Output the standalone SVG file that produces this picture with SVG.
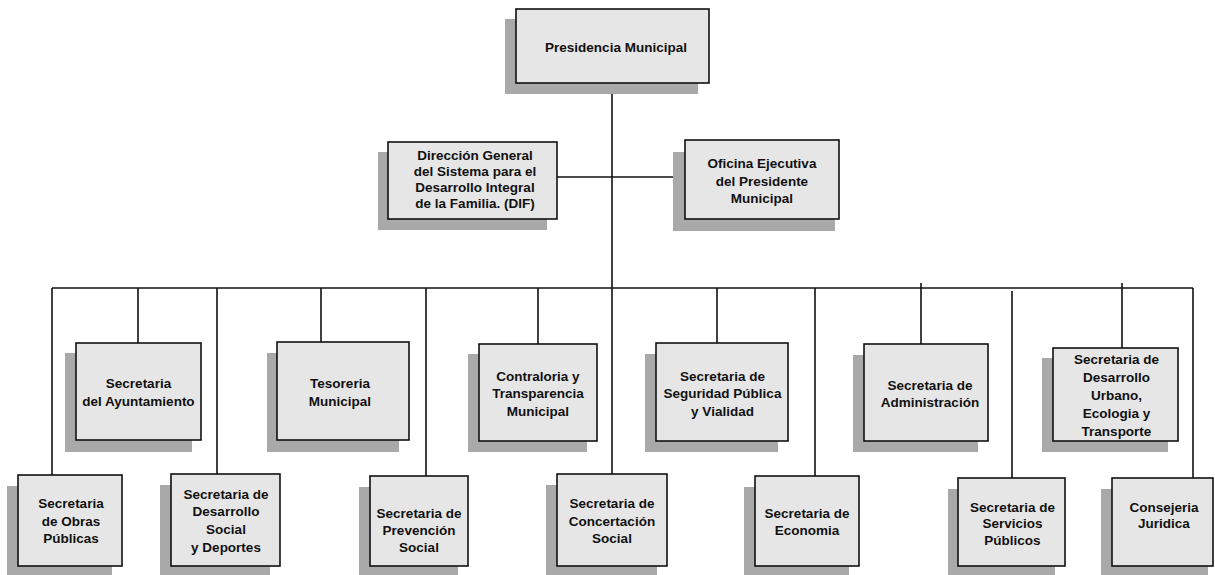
<svg xmlns="http://www.w3.org/2000/svg" width="1215" height="575" viewBox="0 0 1215 575">
<style>
.sh{fill:#a9a9a9}
.bx{fill:#e6e6e6;stroke:#111;stroke-width:1.6}
.t{font-family:"Liberation Sans",Arial,sans-serif;font-weight:bold;font-size:13.5px;fill:#111;text-anchor:middle}
.c{stroke:#111;stroke-width:1.6;fill:none}
</style>
<rect width="1215" height="575" fill="#ffffff"/>
<g id="connectors">
<line class="c" x1="612" y1="83" x2="612" y2="474"/>
<line class="c" x1="557" y1="177" x2="685" y2="177"/>
<line class="c" x1="52" y1="288" x2="1193" y2="288"/>
<line class="c" x1="52" y1="288" x2="52" y2="475"/>
<line class="c" x1="138" y1="288" x2="138" y2="343"/>
<line class="c" x1="217" y1="288" x2="217" y2="474"/>
<line class="c" x1="321" y1="288" x2="321" y2="342"/>
<line class="c" x1="426" y1="288" x2="426" y2="476"/>
<line class="c" x1="538" y1="288" x2="538" y2="344"/>
<line class="c" x1="717" y1="288" x2="717" y2="343"/>
<line class="c" x1="815" y1="288" x2="815" y2="476"/>
<line class="c" x1="921" y1="283" x2="921" y2="344"/>
<line class="c" x1="1012" y1="291" x2="1012" y2="478"/>
<line class="c" x1="1122" y1="283" x2="1122" y2="348"/>
<line class="c" x1="1193" y1="288" x2="1193" y2="478"/>
</g>
<g id="presidencia">
<rect class="sh" x="505" y="19" width="193" height="75"/>
<rect class="bx" x="516" y="9" width="193" height="74"/>
<text class="t" x="616" y="52">Presidencia Municipal</text>
</g>
<g id="dif">
<rect class="sh" x="378" y="152" width="169" height="78"/>
<rect class="bx" x="388" y="142" width="169" height="77"/>
<text class="t" x="475" y="160">Dirección General</text>
<text class="t" x="475" y="176">del Sistema para el</text>
<text class="t" x="475" y="192">Desarrollo Integral</text>
<text class="t" x="475" y="208">de la Familia. (DIF)</text>
</g>
<g id="oficina">
<rect class="sh" x="673" y="152" width="162" height="79"/>
<rect class="bx" x="685" y="140" width="154" height="79"/>
<text class="t" x="762" y="168">Oficina Ejecutiva</text>
<text class="t" x="762" y="185.5">del Presidente</text>
<text class="t" x="762" y="203">Municipal</text>
</g>
<g id="ayuntamiento">
<rect class="sh" x="65" y="353" width="127" height="99"/>
<rect class="bx" x="76" y="343" width="125" height="97"/>
<text class="t" x="138.5" y="388">Secretaria</text>
<text class="t" x="138.5" y="406">del Ayuntamiento</text>
</g>
<g id="tesoreria">
<rect class="sh" x="267" y="353" width="132" height="99"/>
<rect class="bx" x="277" y="342" width="132" height="98"/>
<text class="t" x="340" y="388">Tesoreria</text>
<text class="t" x="340" y="406">Municipal</text>
</g>
<g id="contraloria">
<rect class="sh" x="468" y="354" width="119" height="98"/>
<rect class="bx" x="479" y="344" width="118" height="97"/>
<text class="t" x="538" y="381">Contraloria y</text>
<text class="t" x="538" y="398">Transparencia</text>
<text class="t" x="538" y="416">Municipal</text>
</g>
<g id="seguridad">
<rect class="sh" x="645" y="354" width="133" height="98"/>
<rect class="bx" x="656" y="343" width="132" height="98"/>
<text class="t" x="722.5" y="381">Secretaria de</text>
<text class="t" x="722.5" y="398">Seguridad Pública</text>
<text class="t" x="722.5" y="416">y Vialidad</text>
</g>
<g id="administracion">
<rect class="sh" x="853" y="355" width="125" height="97"/>
<rect class="bx" x="864" y="344" width="124" height="97"/>
<text class="t" x="930" y="390">Secretaria de</text>
<text class="t" x="930" y="407">Administración</text>
</g>
<g id="desarrollo-urbano">
<rect class="sh" x="1042" y="358" width="126" height="94"/>
<rect class="bx" x="1053" y="348" width="125" height="93"/>
<text class="t" x="1116.5" y="364">Secretaria de</text>
<text class="t" x="1116.5" y="382">Desarrollo</text>
<text class="t" x="1116.5" y="400">Urbano,</text>
<text class="t" x="1116.5" y="418">Ecologia y</text>
<text class="t" x="1116.5" y="436">Transporte</text>
</g>
<g id="obras">
<rect class="sh" x="7" y="486" width="105" height="92"/>
<rect class="bx" x="18" y="475" width="104" height="91"/>
<text class="t" x="71" y="508">Secretaria</text>
<text class="t" x="71" y="526">de Obras</text>
<text class="t" x="71" y="543">Públicas</text>
</g>
<g id="desarrollo-social">
<rect class="sh" x="160" y="485" width="110" height="93"/>
<rect class="bx" x="171" y="474" width="109" height="92"/>
<text class="t" x="226" y="499">Secretaria de</text>
<text class="t" x="226" y="516">Desarrollo</text>
<text class="t" x="226" y="534">Social</text>
<text class="t" x="226" y="552">y Deportes</text>
</g>
<g id="prevencion">
<rect class="sh" x="359" y="487" width="99" height="91"/>
<rect class="bx" x="370" y="476" width="98" height="90"/>
<text class="t" x="419" y="518">Secretaria de</text>
<text class="t" x="419" y="535">Prevención</text>
<text class="t" x="419" y="552">Social</text>
</g>
<g id="concertacion">
<rect class="sh" x="546" y="485" width="111" height="93"/>
<rect class="bx" x="557" y="474" width="110" height="92"/>
<text class="t" x="612" y="508">Secretaria de</text>
<text class="t" x="612" y="526">Concertación</text>
<text class="t" x="612" y="543">Social</text>
</g>
<g id="economia">
<rect class="sh" x="744" y="487" width="105" height="91"/>
<rect class="bx" x="755" y="476" width="104" height="90"/>
<text class="t" x="807" y="518">Secretaria de</text>
<text class="t" x="807" y="535">Economia</text>
</g>
<g id="servicios">
<rect class="sh" x="948" y="489" width="107" height="89"/>
<rect class="bx" x="958" y="478" width="107" height="88"/>
<text class="t" x="1012.5" y="512">Secretaria de</text>
<text class="t" x="1012.5" y="528">Servicios</text>
<text class="t" x="1012.5" y="545">Públicos</text>
</g>
<g id="consejeria">
<rect class="sh" x="1101" y="489" width="107" height="89"/>
<rect class="bx" x="1112" y="478" width="101" height="88"/>
<text class="t" x="1164" y="512">Consejeria</text>
<text class="t" x="1164" y="528">Juridica</text>
</g>
</svg>
